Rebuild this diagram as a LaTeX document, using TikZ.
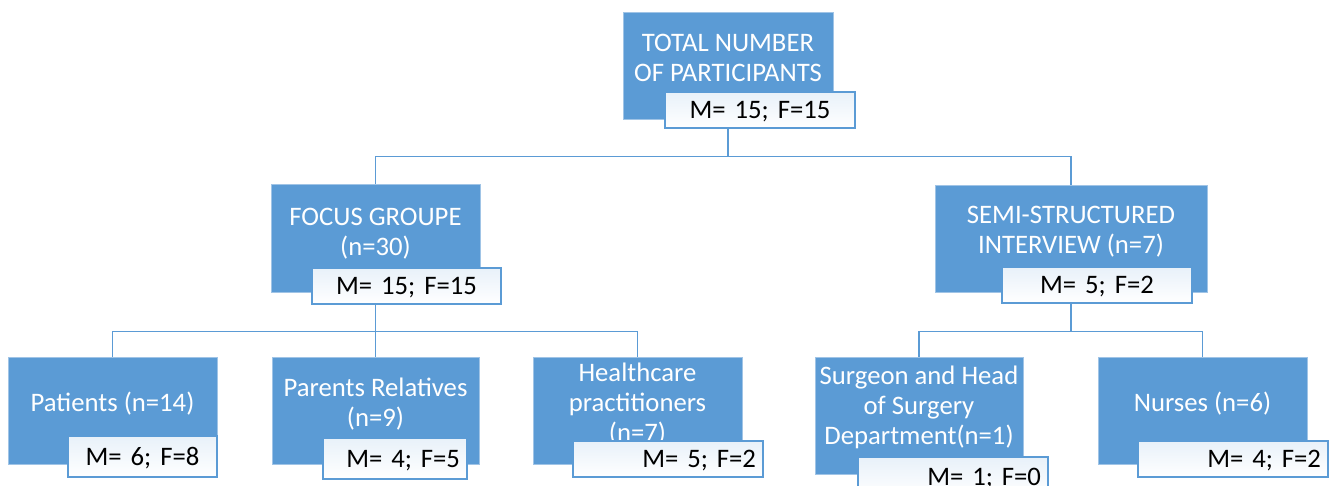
\documentclass[tikz,border=0pt]{standalone}
\usepackage{fontspec}
\setmainfont{Carlito}
\usepackage{tikz}
\definecolor{boxblue}{RGB}{91,155,213}
\definecolor{edgeblue}{RGB}{160,196,230}
\frenchspacing

\begin{document}
\begin{tikzpicture}[x=1pt, y=-1pt,
  grp/.style={fill=boxblue, draw=edgeblue, line width=0.6pt, inner sep=0pt, minimum width=209pt, minimum height=107pt},
  lbl/.style={text=white, align=center, inner sep=0pt, font=\fontsize{26.7}{30}\selectfont},
  cnt/.style={draw=boxblue, line width=1.2pt, top color=boxblue!14!white, middle color=white, bottom color=white, inner xsep=7pt, inner ysep=0pt, text height=17.2pt, text depth=0pt, text width=#1, align=right, minimum height=36pt, font=\fontsize{26.7}{30}\selectfont},
  link/.style={draw=boxblue, line width=1.4pt}]
  \useasboundingbox (0,0) rectangle (1334,486);
  \clip (0,0) rectangle (1334,486);
  \fill[white] (0,0) rectangle (1334,486);

  \node[grp, minimum width=210pt] (total) at (728,65.5) {};
  \node[lbl] (totaltxt) at ([yshift=8pt]total.center) {TOTAL NUMBER\\OF PARTICIPANTS};
  \node[cnt=176pt, align=center] (totalcnt) at (760,110) {M= 15; F=15};

  \node[grp, minimum height=108pt] (focus) at (375.5,238) {};
  \node[lbl] (focustxt) at ([yshift=4.6pt]focus.center) {FOCUS GROUPE\\(n=30)};
  \node[cnt=175pt, align=center] (focuscnt) at (406.5,286) {M= 15; F=15};

  \node[grp, minimum width=272pt] (semi) at (1071,238.5) {};
  \node[lbl] (semitxt) at ([yshift=6.6pt]semi.center) {SEMI-STRUCTURED\\INTERVIEW (n=7)};
  \node[cnt=176pt, align=center] (semicnt) at (1097,285) {M= 5; F=2};

  \node[grp] (patients) at (112.5,410.5) {};
  \node[lbl] (patientstxt) at ([yshift=7.2pt]patients.center) {Patients (n=14)};
  \node[cnt=135pt, align=center, minimum height=41pt] (patientscnt) at (142.5,456.5) {M= 6; F=8};

  \node[grp, minimum width=207pt] (parents) at (375.5,410.5) {};
  \node[lbl] (parentstxt) at ([yshift=6.5pt]parents.center) {Parents Relatives\\(n=9)};
  \node[cnt=130pt, minimum height=41pt] (parentscnt) at (395,458.5) {M= 4; F=5};

  \node[grp] (health) at (637.5,410.5) {};
  \node[lbl] (healthtxt) at ([yshift=6.5pt]health.center) {Healthcare\\practitioners\\(n=7)};
  \node[cnt=176pt] (healthcnt) at (668,459) {M= 5; F=2};

  \node[grp, minimum width=208pt, minimum height=117pt] (surgeon) at (919,415.5) {};
  \node[lbl] (surgeontxt) at ([yshift=8pt]surgeon.center) {Surgeon and Head\\of Surgery\\Department(n=1)};
  \node[cnt=176pt, minimum height=40pt] (surgeoncnt) at (953,477) {M= 1; F=0};

  \node[grp] (nurses) at (1202.5,410.5) {};
  \node[lbl] (nursestxt) at ([yshift=7.2pt]nurses.center) {Nurses (n=6)};
  \node[cnt=176pt] (nursescnt) at (1233,459) {M= 4; F=2};

  \draw[link] (total.center |- totalcnt.south) -- ++(0,28) -| (focus.north);
  \draw[link] (total.center |- totalcnt.south) -- ++(0,28) -| (semi.north);
  \draw[link] (focus.center |- focuscnt.south) -- ++(0,27) -| (patients.north);
  \draw[link] (focus.center |- focuscnt.south) -- ++(0,27) -| (parents.north);
  \draw[link] (focus.center |- focuscnt.south) -- ++(0,27) -| (health.north);
  \draw[link] (semi.center |- semicnt.south) -- ++(0,28) -| (surgeon.north);
  \draw[link] (semi.center |- semicnt.south) -- ++(0,28) -| (nurses.north);
\end{tikzpicture}
\end{document}
